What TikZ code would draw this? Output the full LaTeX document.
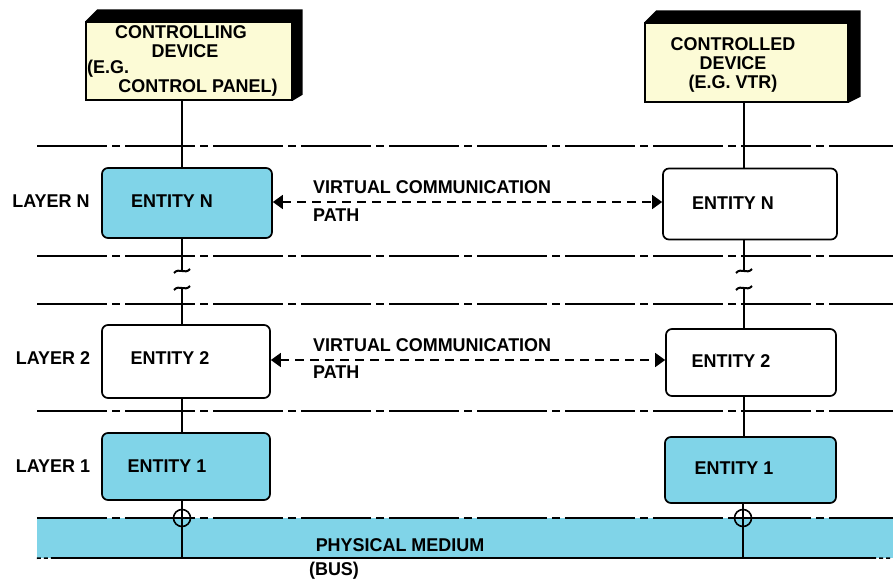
\documentclass[tikz,border=0pt]{standalone}
\usepackage{fontspec}
\setmainfont{Liberation Sans}
\newfontfamily\labelfont{Liberation Sans}[FakeStretch=0.97]
\usetikzlibrary{arrows.meta,calc}
\definecolor{entcyan}{RGB}{128,212,232}
\definecolor{devyellow}{RGB}{252,251,214}
\begin{document}
\begin{tikzpicture}[x=1pt,y=-1pt,
  lbl/.style={font=\labelfont\bfseries\fontsize{18.5}{21}\selectfont, inner sep=0pt},
  entity/.style={draw, line width=1.7pt, rounded corners=6pt},
  cyanbox/.style={entity, fill=entcyan},
  whitebox/.style={entity, fill=white},
  device/.style={draw, line width=1.4pt, fill=devyellow},
  layerline/.style={line width=1.6pt, dash pattern=on 70pt off 5pt on 8pt off 5pt},
  stem/.style={line width=1.6pt},
  vpath/.style={line width=1.6pt, dash pattern=on 9pt off 6pt,
    {Triangle[length=10pt,width=14pt]}-{Triangle[length=10pt,width=14pt]}},
  tap/.style={draw, circle, line width=1.6pt, minimum size=17pt, inner sep=0pt},
]
\useasboundingbox (0,0) rectangle (893,580);

% column positions of the two stacks
\coordinate (cL) at (182,0);
\coordinate (cR) at (744,0);

% physical medium (bus)
\node[fill=entcyan, minimum width=856pt, minimum height=40pt, inner sep=0pt] (bus) at (465,538) {};

% layer boundaries
\foreach \n/\yy in {1/146, 2/256, 3/304, 4/411} {
  \coordinate (h\n a) at (37,\yy);
  \coordinate (h\n b) at (893,\yy);
  \draw[layerline] (h\n a) -- (h\n b);
}
\draw[layerline] (bus.north west) -- (bus.north east);
\coordinate (busbl) at (52,558);
\coordinate (busbr) at (872,558);
\draw[line width=1.6pt] (busbl) -- (busbr);
\draw[line width=1.6pt, dash pattern=on 4pt off 3pt] (bus.south west) -- (busbl);
\draw[line width=1.6pt, dash pattern=on 4pt off 3pt] (busbr) -- (bus.south east);

% devices with their raised top and side
\node[device, minimum width=206pt, minimum height=78pt] (devL) at (189,61) {};
\fill (devL.north west) -- ([shift={(12,-12)}]devL.north west)
  -- ([shift={(10,-12)}]devL.north east) -- ([shift={(10,-6)}]devL.south east)
  -- (devL.south east) -- (devL.north east) -- cycle;
\node[device, minimum width=203pt, minimum height=79pt] (devR) at (746.5,62.5) {};
\fill (devR.north west) -- ([shift={(12,-12)}]devR.north west)
  -- ([shift={(12,-12)}]devR.north east) -- ([shift={(12,-6)}]devR.south east)
  -- (devR.south east) -- (devR.north east) -- cycle;

\node[lbl] (tL1) at (181,32) {CONTROLLING};
\node[lbl] (tL2) at (185,51) {DEVICE};
\node[lbl, anchor=west] (tL3) at (87,68.5) {(E.G.};
\node[lbl] (tL4) at (198,88) {CONTROL PANEL)};
\node[lbl] (tR1) at (733,44) {CONTROLLED};
\node[lbl] (tR2) at (733,63) {DEVICE};
\node[lbl] (tR3) at (733,83.5) {(E.G. VTR)};

% entities
\node[cyanbox, minimum width=170pt, minimum height=70pt] (enLN) at (187,203) {};
\node[whitebox, minimum width=168pt, minimum height=73pt] (enL2) at (186,361.5) {};
\node[cyanbox, minimum width=168pt, minimum height=67pt] (enL1) at (186,466.5) {};
\node[whitebox, minimum width=174pt, minimum height=71pt] (enRN) at (750,204) {};
\node[whitebox, minimum width=170pt, minimum height=67pt] (enR2) at (751,362.5) {};
\node[cyanbox, minimum width=171pt, minimum height=66pt] (enR1) at (750.5,470) {};

\node[lbl] (eLN) at (172,201) {ENTITY N};
\node[lbl] (eL2) at (170,358) {ENTITY 2};
\node[lbl] (eL1) at (167,466) {ENTITY 1};
\node[lbl] (eRN) at (733,203) {ENTITY N};
\node[lbl] (eR2) at (731,361) {ENTITY 2};
\node[lbl] (eR1) at (734,468) {ENTITY 1};

\node[lbl] (lyN) at (51,201) {LAYER N};
\node[lbl] (ly2) at (53,358) {LAYER 2};
\node[lbl] (ly1) at (53,466) {LAYER 1};

% vertical stems with breaks between layer 2 and layer N
\coordinate (brLa) at (182,270);
\coordinate (brLb) at (182,289);
\coordinate (brRa) at (744,270);
\coordinate (brRb) at (744,289);
\draw[stem] (devL.south -| cL) -- (enLN.north -| cL);
\draw[stem] (enLN.south -| cL) -- (brLa);
\draw[stem] (brLb) -- (enL2.north -| cL);
\draw[stem] (enL2.south -| cL) -- (enL1.north -| cL);
\draw[stem] (devR.south -| cR) -- (enRN.north -| cR);
\draw[stem] (enRN.south -| cR) -- (brRa);
\draw[stem] (brRb) -- (enR2.north -| cR);
\draw[stem] (enR2.south -| cR) -- (enR1.north -| cR);
\foreach \c in {brLa,brRa} {
  \draw[line width=2pt] ([shift={(-8,3)}]\c) .. controls ([shift={(-3,-3)}]\c) and ([shift={(3,5)}]\c) .. ([shift={(8,-1)}]\c);
}
\foreach \c in {brLb,brRb} {
  \draw[line width=2pt] ([shift={(-8,1)}]\c) .. controls ([shift={(-3,-5)}]\c) and ([shift={(3,3)}]\c) .. ([shift={(8,-3)}]\c);
}

% taps onto the bus
\node[tap] (tapL) at (182,518) {};
\node[tap] (tapR) at (743,518) {};
\draw[stem] (enL1.south -| cL) -- (bus.south -| cL);
\draw[stem] (enR1.south -| tapR) -- (bus.south -| tapR);
\draw[stem] (tapL.west) -- (tapL.east);
\draw[stem] (tapR.west) -- (tapR.east);

\node[lbl] (phy) at (400,545) {PHYSICAL MEDIUM};
\node[lbl] (busl) at (334,571) {(BUS)};

% virtual communication paths
\draw[vpath] (enLN.east |- 0,202) -- (enRN.west |- 0,202);
\draw[vpath] (enL2.east |- 0,360) -- (enR2.west |- 0,360);
\node[lbl, anchor=west] (vp1a) at (313,187) {VIRTUAL COMMUNICATION};
\node[lbl, anchor=west] (vp1b) at (313,215) {PATH};
\node[lbl, anchor=west] (vp2a) at (313,345) {VIRTUAL COMMUNICATION};
\node[lbl, anchor=west] (vp2b) at (313,372) {PATH};
\end{tikzpicture}
\end{document}
